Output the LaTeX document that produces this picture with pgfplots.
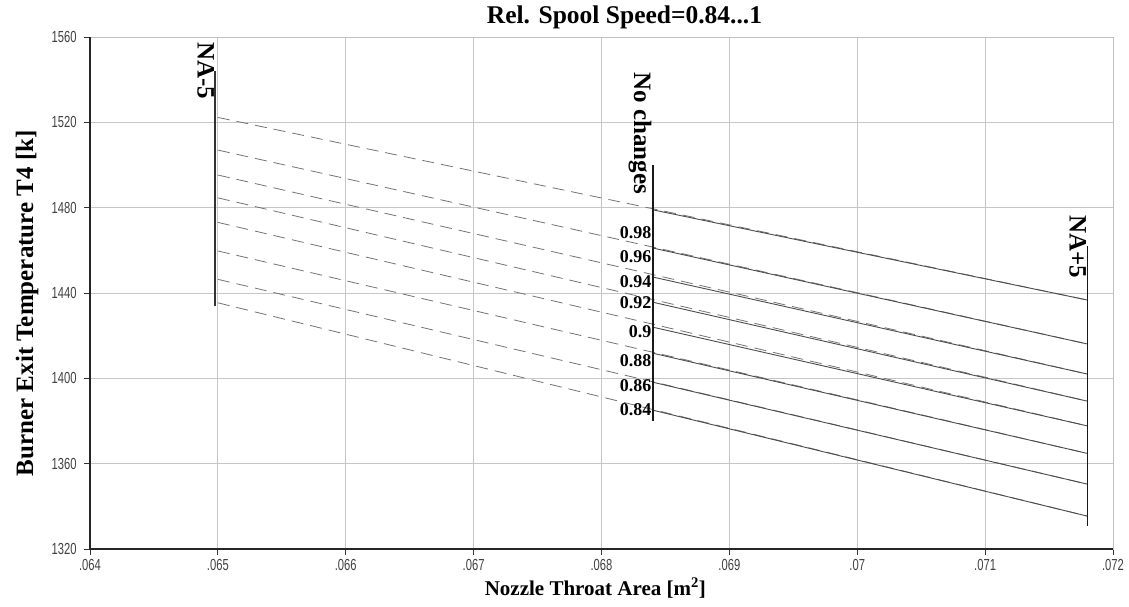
\documentclass[border=0pt]{standalone}
\usepackage{pgfplots}
\pgfplotsset{compat=1.18}
\usepackage{fontspec}
\setmainfont{Liberation Serif}
\newfontfamily\ticksfont{Liberation Sans}

\tikzset{
  spd/.style={font=\bfseries\fontsize{18}{20}\selectfont, anchor=east, inner sep=1pt},
  vlab/.style={font=\bfseries\fontsize{25}{28}\selectfont, rotate=-90, anchor=north west, inner sep=1pt},
}

\begin{document}
\begin{tikzpicture}
\path[use as bounding box] (-90pt,-58pt) rectangle (1039pt,549pt);
\begin{axis}[
    at={(0,0)}, anchor=south west,
    scale only axis, width=1023pt, height=512pt,
    xmin=0.064, xmax=0.072, ymin=1320, ymax=1560,
    xtick={0.064,0.065,0.066,0.067,0.068,0.069,0.07,0.071,0.072},
    xticklabels={.064,.065,.066,.067,.068,.069,.07,.071,.072},
    scaled x ticks=false,
    ytick={1320,1360,1400,1440,1480,1520,1560},
    yticklabels={1320,1360,1400,1440,1480,1520,1560},
    xtick pos=bottom, ytick pos=left,
    tick align=outside, major tick length=6pt,
    tick style={black!80, line width=0.8pt},
    grid=major, major grid style={gray!45, line width=0.9pt},
    axis line style={gray!50, line width=0.9pt},
    ticklabel style={font=\ticksfont\fontsize{16}{18}\selectfont, text=black!75, xscale=0.7},
    yticklabel style={xshift=-7pt},
    xticklabel style={yshift=-1pt},
    xlabel={Nozzle Throat Area [m\textsuperscript{2}]},
    xlabel style={font=\bfseries\fontsize{21}{24}\selectfont, at={(axis description cs:0.494,0)}, anchor=base, yshift=-46pt},
    ylabel={Burner Exit Temperature T4 [k]},
    ylabel style={font=\bfseries\fontsize{25}{28}\selectfont, at={(axis description cs:-0.0557,0.48)}, anchor=base},
    clip=false,
]
% dashed trend lines NA-5 -> NA+5
\addplot[black!55, line width=0.8pt, dash pattern=on 12pt off 7pt] coordinates {(0.065,1522.3) (0.0718,1436.7)};
\addplot[black!55, line width=0.8pt, dash pattern=on 12pt off 7pt] coordinates {(0.065,1507.0) (0.0718,1416.1)};
\addplot[black!55, line width=0.8pt, dash pattern=on 12pt off 7pt] coordinates {(0.065,1495.3) (0.0718,1402.0)};
\addplot[black!55, line width=0.8pt, dash pattern=on 12pt off 7pt] coordinates {(0.065,1484.6) (0.0718,1389.3)};
\addplot[black!55, line width=0.8pt, dash pattern=on 12pt off 7pt] coordinates {(0.065,1473.1) (0.0718,1377.7)};
\addplot[black!55, line width=0.8pt, dash pattern=on 12pt off 7pt] coordinates {(0.065,1459.7) (0.0718,1364.8)};
\addplot[black!55, line width=0.8pt, dash pattern=on 12pt off 7pt] coordinates {(0.065,1446.4) (0.0718,1350.4)};
\addplot[black!55, line width=0.8pt, dash pattern=on 12pt off 7pt] coordinates {(0.065,1435.4) (0.0718,1335.4)};
% solid lines from nominal area to NA+5
\addplot[black!70, line width=0.9pt] coordinates {(0.0684,1479.0) (0.0718,1436.7)};
\addplot[black!70, line width=0.9pt] coordinates {(0.0684,1461.1) (0.0718,1416.1)};
\addplot[black!70, line width=0.9pt] coordinates {(0.0684,1447.5) (0.0718,1402.0)};
\addplot[black!70, line width=0.9pt] coordinates {(0.0684,1435.7) (0.0718,1389.3)};
\addplot[black!70, line width=0.9pt] coordinates {(0.0684,1424.0) (0.0718,1377.7)};
\addplot[black!70, line width=0.9pt] coordinates {(0.0684,1411.8) (0.0718,1364.8)};
\addplot[black!70, line width=0.9pt] coordinates {(0.0684,1398.2) (0.0718,1350.4)};
\addplot[black!70, line width=0.9pt] coordinates {(0.0684,1385.1) (0.0718,1335.4)};
% vertical markers
\addplot[black!80, line width=1.8pt] coordinates {(0.06498,1434) (0.06498,1544)};
\addplot[black!90, line width=1.8pt] coordinates {(0.0684,1380) (0.0684,1500)};
\addplot[black!90, line width=1.8pt] coordinates {(0.0718,1331) (0.0718,1462)};
% thick left and bottom axis lines
\draw[black!85, line width=2.8pt] (rel axis cs:0,1) -- (rel axis cs:0,0) -- (rel axis cs:1,0);
% annotations
\node[vlab] at (axis cs:0.06498,1558) {NA-5};
\node[vlab] at (axis cs:0.0684,1544) {No changes};
\node[vlab] at (axis cs:0.0718,1477) {NA+5};
\node[spd] at (axis cs:0.0684,1468.1) {0.98};
\node[spd] at (axis cs:0.0684,1457.0) {0.96};
\node[spd] at (axis cs:0.0684,1445.3) {0.94};
\node[spd] at (axis cs:0.0684,1435.3) {0.92};
\node[spd] at (axis cs:0.0684,1421.8) {0.9};
\node[spd] at (axis cs:0.0684,1408.5) {0.88};
\node[spd] at (axis cs:0.0684,1396.8) {0.86};
\node[spd] at (axis cs:0.0684,1385.1) {0.84};
\node[font=\bfseries\fontsize{25.5}{29}\selectfont, anchor=base] at (axis cs:0.06818,1560) [yshift=13pt] {Rel. Spool Speed=0.84...1};
\end{axis}
\end{tikzpicture}
\end{document}
